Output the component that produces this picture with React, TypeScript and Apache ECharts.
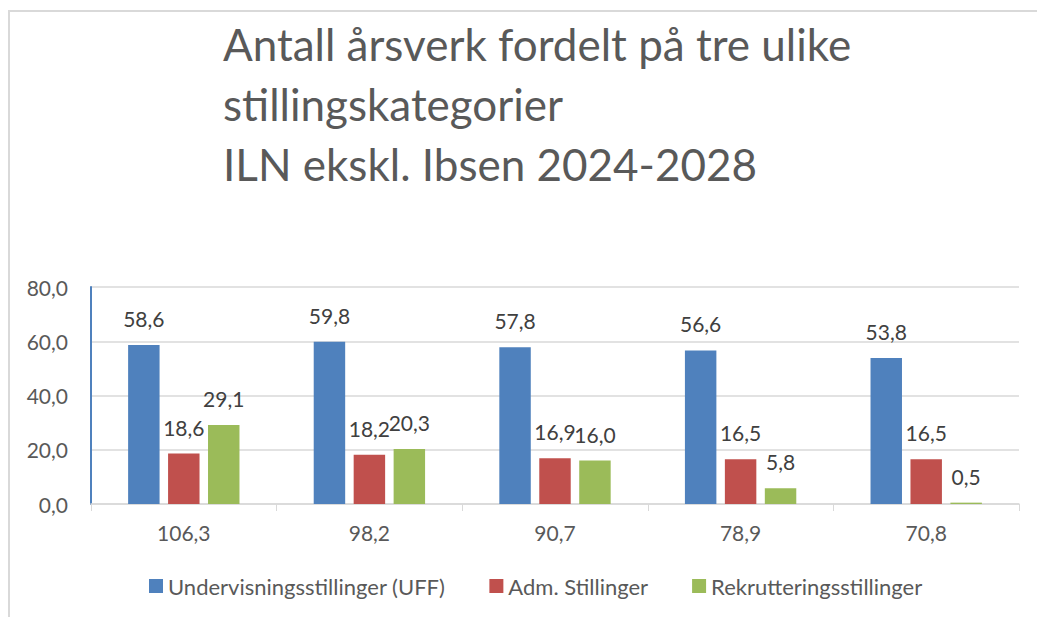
import React, { useEffect, useRef } from "react";
import * as echarts from "echarts";

const categories = ["106,3", "98,2", "90,7", "78,9", "70,8"];
const undervisning = [58.6, 59.8, 57.8, 56.6, 53.8];
const adm = [18.6, 18.2, 16.9, 16.5, 16.5];
const rekruttering = [29.1, 20.3, 16.0, 5.8, 0.5];
const seriesNames = ["Undervisningsstillinger (UFF)", "Adm. Stillinger", "Rekrutteringsstillinger"];
const titleLines = ["Antall årsverk fordelt på tre ulike", "stillingskategorier", "ILN ekskl. Ibsen 2024-2028"];

const FONT = "Lato, 'Open Sans', sans-serif";
const fmt = (v: number) => v.toFixed(1).replace(".", ",");

export default function App() {
  const ref = useRef<HTMLDivElement>(null);
  useEffect(() => {
    if (!ref.current) return;
    const chart = echarts.init(ref.current, null, { renderer: "svg" });
    const label = {
      show: true,
      position: "top" as const,
      distance: 16,
      fontSize: 21,
      color: "#404040",
      fontFamily: FONT,
      formatter: (p: any) => fmt(p.value),
    };
    const mk = (name: string, data: number[], color: string) => ({
      name,
      type: "bar" as const,
      data,
      itemStyle: { color },
      label,
      barGap: "27%",
      barCategoryGap: "40%",
    });
    chart.setOption({
      animation: false,
      textStyle: { fontFamily: FONT },
      title: {
        text: titleLines.join("\n"),
        left: 218,
        top: 9,
        textStyle: { fontSize: 44, lineHeight: 60, color: "#595959", fontWeight: "normal", fontFamily: FONT },
      },
      graphic: [
        {
          type: "rect",
          shape: { x: 9, y: 11, width: 1100, height: 700 },
          style: { fill: "none", stroke: "#d9d9d9", lineWidth: 2 },
          silent: true,
        },
      ],
      legend: {
        data: seriesNames,
        top: 570,
        left: 144,
        itemWidth: 14,
        itemHeight: 14,
        itemGap: 44,
        icon: "rect",
        textStyle: { fontSize: 22, color: "#595959", fontFamily: FONT },
      },
      grid: { left: 91, right: 18, top: 287, bottom: 113 },
      xAxis: {
        type: "category",
        data: categories,
        axisLine: { lineStyle: { color: "#d9d9d9", width: 1.5 } },
        axisTick: { show: true, length: 7, lineStyle: { color: "#d9d9d9" } },
        axisLabel: { fontSize: 21, color: "#595959", margin: 18, fontFamily: FONT },
      },
      yAxis: {
        type: "value",
        min: 0,
        max: 80,
        interval: 20,
        axisLine: { show: true, lineStyle: { color: "#4f81bd", width: 2 } },
        axisTick: { show: false },
        splitLine: { lineStyle: { color: "#d9d9d9", width: 1.5 } },
        axisLabel: { fontSize: 21, color: "#595959", margin: 23, fontFamily: FONT, formatter: (v: number) => fmt(v) },
      },
      series: [
        mk(seriesNames[0], undervisning, "#4f81bd"),
        mk(seriesNames[1], adm, "#c0504d"),
        mk(seriesNames[2], rekruttering, "#9bbb59"),
      ],
    });
    return () => chart.dispose();
  }, []);
  return <div ref={ref} style={{ position: "fixed", left: 0, top: 0, width: 1037, height: 617, background: "#fff" }} />;
}
